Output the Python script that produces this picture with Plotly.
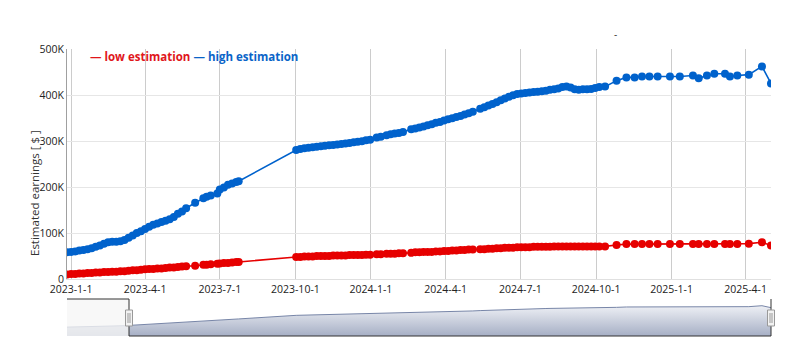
import plotly.graph_objects as go

# ---------------- data (values in thousands of $) ----------------
dates = [
    "2022-12-27", "2023-01-01", "2023-01-06", "2023-01-11", "2023-01-16", "2023-01-21",
    "2023-01-26", "2023-01-31", "2023-02-05", "2023-02-10", "2023-02-15", "2023-02-20",
    "2023-02-25", "2023-03-02", "2023-03-07", "2023-03-12", "2023-03-17", "2023-03-22",
    "2023-03-27", "2023-04-01", "2023-04-06", "2023-04-11", "2023-04-16", "2023-04-21",
    "2023-04-26", "2023-05-01", "2023-05-06", "2023-05-11", "2023-05-16",
    "2023-05-21", "2023-06-01", "2023-06-11", "2023-06-15", "2023-06-20", "2023-06-28",
    "2023-07-01", "2023-07-06", "2023-07-11", "2023-07-16", "2023-07-21", "2023-07-24",
    "2023-10-02", "2023-10-07", "2023-10-12", "2023-10-17", "2023-10-22", "2023-10-27",
    "2023-11-01", "2023-11-06", "2023-11-11", "2023-11-16", "2023-11-21", "2023-11-26",
    "2023-12-01", "2023-12-06", "2023-12-11", "2023-12-16", "2023-12-21", "2023-12-26",
    "2023-12-31",
    "2024-01-08", "2024-01-13", "2024-01-20", "2024-01-25", "2024-01-30", "2024-02-04",
    "2024-02-09",
    "2024-02-19", "2024-02-24", "2024-02-29", "2024-03-05", "2024-03-10", "2024-03-15",
    "2024-03-20", "2024-03-25", "2024-03-30", "2024-04-04", "2024-04-09", "2024-04-14",
    "2024-04-19", "2024-04-24", "2024-04-29", "2024-05-04",
    "2024-05-13", "2024-05-18", "2024-05-23", "2024-05-28", "2024-06-02", "2024-06-07",
    "2024-06-12", "2024-06-17", "2024-06-22", "2024-06-27", "2024-07-02", "2024-07-07",
    "2024-07-12", "2024-07-17", "2024-07-22", "2024-07-27", "2024-08-01", "2024-08-06",
    "2024-08-11", "2024-08-16", "2024-08-21", "2024-08-26", "2024-08-31", "2024-09-05",
    "2024-09-10", "2024-09-15", "2024-09-20", "2024-09-25", "2024-09-30",
    "2024-10-05", "2024-10-12", "2024-10-26", "2024-11-07", "2024-11-17", "2024-11-26",
    "2024-12-05", "2024-12-15", "2024-12-30", "2025-01-11", "2025-01-27", "2025-02-03",
    "2025-02-13", "2025-02-22", "2025-03-07", "2025-03-13", "2025-03-22", "2025-04-05",
    "2025-04-21", "2025-05-02",
]

low_estimation_k = [
    10, 11, 11, 12, 12, 13, 13, 14, 14, 15, 15, 16, 16, 17, 17, 18, 19, 19, 20, 21,
    22, 22, 23, 23, 24, 25, 25, 26, 27,
    28, 29, 31, 31, 32, 33, 34, 35, 35, 36, 37, 37,
    48, 48, 49, 49, 49, 50, 50, 50, 50, 51, 51, 51, 51, 52, 52, 52, 52, 53, 53,
    54, 54, 55, 55, 55, 56, 56,
    57, 58, 58, 59, 59, 59, 60, 60, 61, 61, 62, 62, 63, 63, 64, 64,
    65, 65, 66, 66, 67, 67, 68, 68, 68, 69, 69, 69, 69, 70, 70, 70, 70, 70, 71, 71,
    71, 71, 71, 71, 71, 71, 71, 71, 71,
    71, 71, 74, 76, 76, 76, 76, 76, 76, 76, 76, 76, 76, 76, 76, 76, 76, 77, 80, 73,
]

high_estimation_k = [
    58, 59, 60, 62, 63, 65, 67, 70, 73, 77, 80, 81, 81, 82, 85, 90, 95, 100, 104, 109,
    114, 118, 121, 124, 127, 130, 135, 142, 147,
    154, 166, 176, 179, 182, 186, 195, 199, 205, 208, 211, 213,
    281, 283, 285, 286, 287, 288, 289, 290, 291, 292, 293, 294, 295, 296, 298, 299, 300, 302, 303,
    308, 310, 313, 315, 317, 318, 320,
    326, 328, 330, 332, 335, 337, 340, 342, 345, 348, 350, 353, 355, 358, 361, 364,
    371, 374, 378, 381, 385, 389, 393, 397, 400, 403, 404, 405, 406, 407, 408, 409, 410, 412,
    413, 415, 418, 419, 417, 413, 412, 413, 413, 414, 416,
    418, 419, 432, 439, 439, 441, 441, 441, 441, 441, 443, 437, 443, 447, 447, 441, 443, 445,
    463, 426,
]

x_tick_vals = ["2023-01-01", "2023-04-01", "2023-07-01", "2023-10-01", "2024-01-01",
               "2024-04-01", "2024-07-01", "2024-10-01", "2025-01-01", "2025-04-01"]
x_tick_text = ["2023-1-1", "2023-4-1", "2023-7-1", "2023-10-1", "2024-1-1",
               "2024-4-1", "2024-7-1", "2024-10-1", "2025-1-1", "2025-4-1"]
y_tick_vals = [0, 100000, 200000, 300000, 400000, 500000]
y_tick_text = ["0", "100K", "200K", "300K", "400K", "500K"]

low = [v * 1000 for v in low_estimation_k]
high = [v * 1000 for v in high_estimation_k]

# ---------------- layout helpers ----------------
W, H = 798, 364
L, R = 67, 27
PW = W - L - R


def px(x):
    return (x - L) / PW


def py(y):
    return (H - y) / H


RED = "#e60000"
BLUE = "#0062cc"
FONT = "Open Sans"
X_RANGE = ["2022-12-27", "2025-05-02"]
NAV_FLOOR = -110000

fig = go.Figure()
fig.add_trace(go.Scatter(
    x=dates, y=low, mode="lines+markers", name="low estimation",
    line=dict(color=RED, width=1.6), marker=dict(size=8, color=RED)))
fig.add_trace(go.Scatter(
    x=dates, y=high, mode="lines+markers", name="high estimation",
    line=dict(color=BLUE, width=1.6), marker=dict(size=8, color=BLUE)))

# navigator
fig.add_trace(go.Scatter(
    x=dates + [dates[-1], dates[0]], y=high + [NAV_FLOOR, NAV_FLOOR],
    fill="toself", mode="lines", line=dict(width=0),
    fillgradient=dict(type="vertical", colorscale=[[0, "#a6afc5"], [1, "#eef0f5"]]),
    xaxis="x2", yaxis="y2", hoverinfo="skip"))
fig.add_trace(go.Scatter(
    x=dates, y=high, mode="lines", line=dict(color="#7886a8", width=1),
    xaxis="x2", yaxis="y2", hoverinfo="skip"))

shapes = [
    # white band hiding grid lines behind the legend row
    dict(type="rect", xref="paper", yref="paper", x0=px(88), x1=px(776), y0=py(63.5), y1=py(44),
         fillcolor="white", line=dict(width=0), layer="between"),
    # navigator unselected mask
    dict(type="rect", xref="paper", yref="paper", x0=px(67), x1=px(129), y0=py(336), y1=py(299),
         fillcolor="rgba(246,246,246,0.78)", line=dict(width=0), layer="above"),
    # navigator outline
    dict(type="path", xref="paper", yref="paper",
         path=(f"M {px(67)},{py(299)} L {px(129)},{py(299)} L {px(129)},{py(336)} "
               f"L {px(771)},{py(336)} L {px(771)},{py(299)}"),
         line=dict(color="#333333", width=1), layer="above"),
]
for cx in (129, 771):
    shapes.append(dict(type="rect", xref="paper", yref="paper", x0=px(cx - 3.5), x1=px(cx + 3.5),
                       y0=py(326), y1=py(310), fillcolor="#f2f2f2",
                       line=dict(color="#999999", width=1), layer="above"))
    for dx in (-1, 1):
        shapes.append(dict(type="line", xref="paper", yref="paper", x0=px(cx + dx), x1=px(cx + dx),
                           y0=py(323), y1=py(313), line=dict(color="#999999", width=1), layer="above"))

annotations = [
    dict(xref="paper", yref="paper", x=px(88), y=py(56), xanchor="left", yanchor="middle",
         showarrow=False, font=dict(family=FONT, size=11.5),
         text=("<b><span style='color:#e0161b'>— low estimation</span> "
               "<span style='color:#0a64c8'>— high estimation</span></b>")),
    dict(xref="paper", yref="paper", x=px(34), y=py(193), xanchor="center", yanchor="middle",
         showarrow=False, textangle=-90, text="Estimated earnings [ $ ]",
         font=dict(family=FONT, size=11.5, color="#333333")),
    dict(xref="paper", yref="paper", x=px(615), y=py(34), xanchor="center", yanchor="middle",
         showarrow=False, text="-", font=dict(family=FONT, size=10, color="#333333")),
]

fig.update_layout(
    width=W, height=H,
    margin=dict(l=L, r=R, t=0, b=0, autoexpand=False),
    paper_bgcolor="white", plot_bgcolor="white",
    showlegend=False,
    font=dict(family=FONT, size=11, color="#333333"),
    xaxis=dict(domain=[0, 1], anchor="y", range=X_RANGE, tickvals=x_tick_vals, ticktext=x_tick_text,
               showgrid=True, gridcolor="#cccccc", gridwidth=1, zeroline=False, showline=True,
               linecolor="#e0e0e0", ticks="", automargin=False,
               tickfont=dict(family=FONT, size=10.5, color="#222222")),
    yaxis=dict(domain=[py(279), py(49.4)], anchor="x", range=[0, 500000], tickvals=y_tick_vals,
               ticktext=y_tick_text, showgrid=True, gridcolor="#e6e6e6", zeroline=False,
               showline=True, linecolor="#a0a0a0", ticks="", automargin=False,
               tickfont=dict(family=FONT, size=10.5, color="#222222")),
    xaxis2=dict(domain=[0, 1], anchor="y2", range=X_RANGE, visible=False),
    yaxis2=dict(domain=[py(336), py(299)], anchor="x2", range=[NAV_FLOOR, 590000], visible=False),
    shapes=shapes,
    annotations=annotations,
)

fig.write_html(
    "out.html",
    config={"displayModeBar": False},
    post_script="document.body.style.margin='0';document.body.style.overflow='hidden';",
)
